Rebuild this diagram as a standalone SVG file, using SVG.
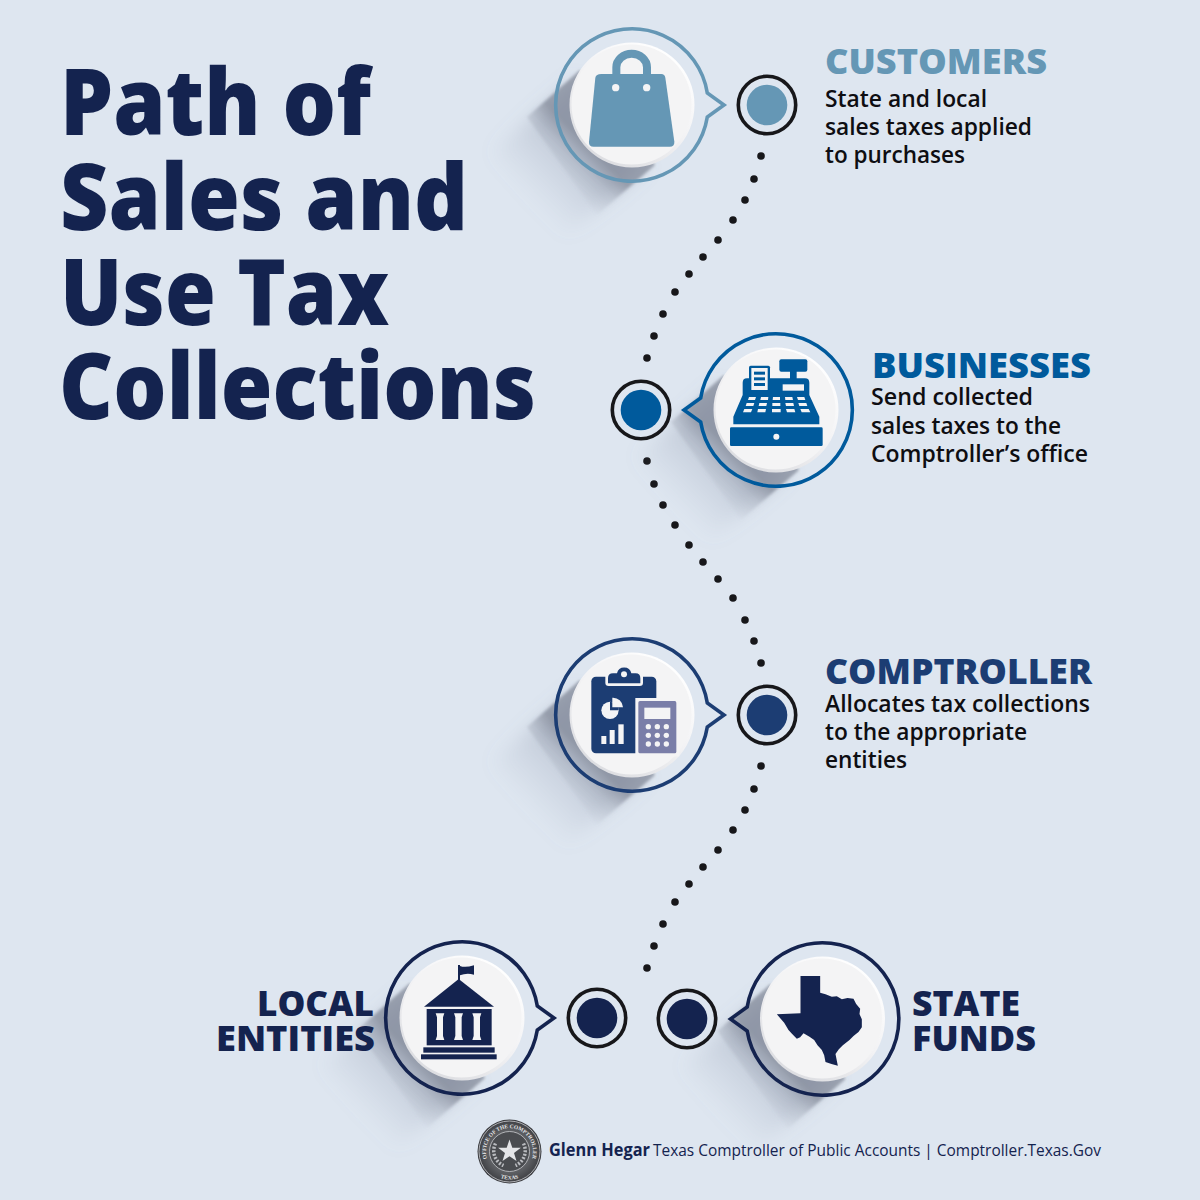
<svg xmlns="http://www.w3.org/2000/svg" width="1200" height="1200" viewBox="0 0 1200 1200">
<style>
text{font-family:"Open Sans","Liberation Sans",sans-serif}
.title{font-size:93px;font-weight:800;fill:#14234f}
.head{font-size:35px;font-weight:800}
.body{font-size:24px;font-weight:600;fill:#0e0e12}
.foot{font-size:17px;fill:#14234f}
.ring{fill:none;stroke:currentColor;stroke-width:3.6}
.outer{fill:none;stroke:#17171a;stroke-width:3.6}
.dot{fill:#17171a}
.w{fill:#f4f4f5}
</style>
<defs>
<linearGradient id="sg" gradientUnits="userSpaceOnUse" x1="0" y1="0" x2="-78" y2="78">
<stop offset=".54" stop-color="#6c7282" stop-opacity=".58"/>
<stop offset=".72" stop-color="#7a8192" stop-opacity=".24"/>
<stop offset=".97" stop-color="#8a92a4" stop-opacity="0"/>
</linearGradient>
<linearGradient id="sg2" gradientUnits="userSpaceOnUse" x1="0" y1="0" x2="-100" y2="100">
<stop offset=".5" stop-color="#7d879c" stop-opacity=".3"/>
<stop offset="1" stop-color="#8d97ae" stop-opacity="0"/>
</linearGradient>
<filter id="soft" x="-30%" y="-30%" width="160%" height="160%"><feGaussianBlur stdDeviation="9"/></filter>
<filter id="soft2" x="-10%" y="-10%" width="120%" height="120%"><feGaussianBlur stdDeviation="1.4"/></filter>
<linearGradient id="rim" x1=".85" y1=".1" x2=".25" y2=".95">
<stop offset="0" stop-color="#ffffff"/>
<stop offset=".5" stop-color="#f2f2f4"/>
<stop offset="1" stop-color="#dcdde1"/>
</linearGradient>
<radialGradient id="sealg"><stop offset="0" stop-color="#8b8d90"/><stop offset=".7" stop-color="#5a5c60"/><stop offset="1" stop-color="#3c3d41"/></radialGradient>
<g id="shadow">
<path d="M-56-26L14 62L-70 135L-140 47Z" fill="url(#sg2)" filter="url(#soft)"/>
<path d="M-52-35L23 60L-35 110L-105 12Z" fill="url(#sg)" filter="url(#soft2)"/>
</g>
<g id="disk"><circle r="62.5" fill="url(#rim)"/><circle cx="-.5" cy="-.5" r="60" fill="#f4f4f5"/></g>
<path id="bubble" class="ring" d="M75.3-12A76.3 76.3 0 1 0 75.3 12L92 0Z"/>
<path id="sealtop" d="M-20.4 11.8A23.5 23.5 0 1 1 20.4 11.8"/>
<path id="sealbot" d="M-16 23A28 28 0 0 0 16 23"/>
</defs>
<rect width="1200" height="1200" fill="#dee6f0"/>

<g id="title" class="title">
<text x="60" y="135" textLength="311" lengthAdjust="spacingAndGlyphs">Path of</text>
<text x="60" y="230" textLength="408" lengthAdjust="spacingAndGlyphs">Sales and</text>
<text x="60" y="325" textLength="329" lengthAdjust="spacingAndGlyphs">Use Tax</text>
<text x="59" y="419" textLength="477" lengthAdjust="spacingAndGlyphs">Collections</text>
</g>

<g id="connectors" class="dot">
<circle cx="761" cy="156" r="3.8"/><circle cx="754" cy="179" r="3.8"/><circle cx="745" cy="200" r="3.8"/><circle cx="733" cy="220" r="3.8"/><circle cx="718" cy="240" r="3.8"/><circle cx="703" cy="257" r="3.8"/><circle cx="689" cy="274" r="3.8"/><circle cx="675" cy="292" r="3.8"/><circle cx="663" cy="314" r="3.8"/><circle cx="654" cy="336" r="3.8"/><circle cx="647" cy="358" r="3.8"/>
<circle cx="647" cy="461" r="3.8"/><circle cx="654" cy="484" r="3.8"/><circle cx="663" cy="505" r="3.8"/><circle cx="675" cy="525" r="3.8"/><circle cx="689" cy="545" r="3.8"/><circle cx="703" cy="562" r="3.8"/><circle cx="718" cy="579" r="3.8"/><circle cx="733" cy="598" r="3.8"/><circle cx="745" cy="620" r="3.8"/><circle cx="754" cy="641" r="3.8"/><circle cx="761" cy="663" r="3.8"/>
<circle cx="761" cy="766" r="3.8"/><circle cx="754" cy="789" r="3.8"/><circle cx="745" cy="810" r="3.8"/><circle cx="733" cy="830" r="3.8"/><circle cx="718" cy="850" r="3.8"/><circle cx="703" cy="867" r="3.8"/><circle cx="689" cy="884" r="3.8"/><circle cx="675" cy="902" r="3.8"/><circle cx="663" cy="924" r="3.8"/><circle cx="654" cy="946" r="3.8"/><circle cx="647" cy="968" r="3.8"/>
</g>

<g id="node-customers" style="color:#6597b5">
<g transform="translate(632 105)">
<use href="#shadow"/><use href="#bubble"/><use href="#disk"/>
<g transform="scale(.3333) translate(-277 -285)">
<path d="M230 192V172A46 41 0 0 1 322 172V192" fill="none" stroke="#6597b5" stroke-width="24"/>
<path d="M185 192H365Q375 192 377 203L404 395Q405 410 390 410H162Q147 410 148 395L167 203Q169 192 185 192Z" fill="#6597b5"/>
<circle cx="228" cy="233" r="11" class="w"/><circle cx="321" cy="233" r="11" class="w"/>
</g>
</g>
<g transform="translate(767 105)"><circle r="20.3" fill="#6597b5"/><circle r="28.7" class="outer"/></g>
<text class="head" x="825" y="74" fill="#6597b5" textLength="222" lengthAdjust="spacingAndGlyphs">CUSTOMERS</text>
<text class="body" x="825" y="107" textLength="162" lengthAdjust="spacingAndGlyphs">State and local</text>
<text class="body" x="825" y="135" textLength="207" lengthAdjust="spacingAndGlyphs">sales taxes applied</text>
<text class="body" x="825" y="163" textLength="140" lengthAdjust="spacingAndGlyphs">to purchases</text>
</g>

<g id="node-businesses" style="color:#005a9c">
<g transform="translate(776 410)">
<use href="#shadow"/><use href="#bubble" transform="scale(-1 1)"/><use href="#disk"/>
<g transform="scale(.3333) translate(-528 -270)" fill="#005a9c">
<rect x="390" y="322" width="278" height="56" rx="4"/>
<circle cx="529" cy="350" r="9" class="w"/>
<rect x="538" y="118" width="84" height="37" rx="6"/>
<rect x="570" y="150" width="20" height="30"/>
<path d="M400 313V290L428 225V188Q428 175 441 175H615Q628 175 628 188V225L658 290V313Z"/>
<rect x="447" y="137" width="63" height="76" rx="5"/>
<rect x="454" y="144" width="49" height="66" class="w"/>
<rect x="462" y="155" width="33" height="9"/><rect x="462" y="172" width="33" height="9"/><rect x="462" y="189" width="33" height="9"/>
<g class="w">
<rect x="548" y="193" width="64" height="19"/>
<path d="M447 231H468L465 240H444ZM483 231H505L504 240H481ZM519 231H540V240H518ZM555 231H577L579 240H556ZM591 231H613L616 240H594Z"/>
<path d="M440 249H463L460 258H437ZM478 249H501L499 258H476ZM517 249H541V258H517ZM556 249H580L582 258H558ZM595 249H619L622 258H598Z"/>
<path d="M433 267H457L453 277H429ZM474 267H498L496 277H472ZM516 267H542V277H516ZM558 267H583L586 277H561ZM601 267H626L631 277H605Z"/>
</g>
</g>
</g>
<g transform="translate(641 410)"><circle r="20.3" fill="#005a9c"/><circle r="28.7" class="outer"/></g>
<text class="head" x="872" y="378" fill="#005a9c" textLength="219" lengthAdjust="spacingAndGlyphs">BUSINESSES</text>
<text class="body" x="871" y="405" textLength="162" lengthAdjust="spacingAndGlyphs">Send collected</text>
<text class="body" x="871" y="434" textLength="190" lengthAdjust="spacingAndGlyphs">sales taxes to the</text>
<text class="body" x="871" y="462" textLength="217" lengthAdjust="spacingAndGlyphs">Comptroller’s office</text>
</g>

<g id="node-comptroller" style="color:#1c3d73">
<g transform="translate(632 715)">
<use href="#shadow"/><use href="#bubble"/><use href="#disk"/>
<g transform="scale(.3333) translate(-277 -255)">
<rect x="155" y="140" width="195" height="230" rx="14" fill="#1c3d73"/>
<rect x="197" y="122" width="113" height="46" rx="10" class="w"/>
<path d="M205 145Q205 130 220 130H232A22 22 0 0 1 275 130H288Q302 130 302 145V160H205Z" fill="#1c3d73"/>
<circle cx="253" cy="133" r="9" class="w"/>
<circle cx="211" cy="241" r="26" class="w"/>
<path d="M211 241V215A26 26 0 0 1 237 241Z" fill="#1c3d73"/>
<path d="M218 232V203A30 30 0 0 1 250 232Z" class="w"/>
<g class="w"><rect x="185" y="318" width="15" height="24"/><rect x="210" y="300" width="15" height="42"/><rect x="236" y="283" width="16" height="59"/></g>
<rect x="287" y="204" width="132" height="175" class="w"/>
<rect x="296" y="213" width="114" height="157" rx="5" fill="#7a7ea8"/>
<rect x="314" y="233" width="78" height="34" class="w"/>
<g class="w"><circle cx="326" cy="290" r="8"/><circle cx="353" cy="290" r="8"/><circle cx="380" cy="290" r="8"/><circle cx="326" cy="316" r="8"/><circle cx="353" cy="316" r="8"/><circle cx="380" cy="316" r="8"/><circle cx="326" cy="342" r="8"/><circle cx="353" cy="342" r="8"/><circle cx="380" cy="342" r="8"/></g>
</g>
</g>
<g transform="translate(767 715)"><circle r="20.3" fill="#1c3d73"/><circle r="28.7" class="outer"/></g>
<text class="head" x="825" y="684" fill="#1c3d73" textLength="267" lengthAdjust="spacingAndGlyphs">COMPTROLLER</text>
<text class="body" x="825" y="712" textLength="265" lengthAdjust="spacingAndGlyphs">Allocates tax collections</text>
<text class="body" x="825" y="740" textLength="202" lengthAdjust="spacingAndGlyphs">to the appropriate</text>
<text class="body" x="825" y="768" textLength="82" lengthAdjust="spacingAndGlyphs">entities</text>
</g>

<g id="node-local" style="color:#14234f">
<g transform="translate(462 1018)">
<use href="#shadow"/><use href="#bubble"/><use href="#disk"/>
<g transform="scale(.3333) translate(-276 -264)" fill="#14234f">
<rect x="264" y="105" width="6" height="48"/>
<path d="M270 108Q285 114 312 106V134Q290 128 270 136Z"/>
<path d="M266 147L372 230H162Z"/>
<rect x="170" y="237" width="195" height="109"/>
<rect x="160" y="352" width="214" height="16"/>
<rect x="153" y="373" width="227" height="15"/>
<g class="w"><path d="M197 250H223L219 262V318L223 330H197L201 318V262Z"/><path d="M252 250H279L275 262V318L279 330H252L256 318V262Z"/><path d="M307 250H334L330 262V318L334 330H307L311 318V262Z"/></g>
</g>
</g>
<g transform="translate(597 1018)"><circle r="20.3" fill="#14234f"/><circle r="28.7" class="outer"/></g>
<text class="head" x="374" y="1016" text-anchor="end" fill="#14234f" textLength="117" lengthAdjust="spacingAndGlyphs">LOCAL</text>
<text class="head" x="216" y="1051" fill="#14234f" textLength="159" lengthAdjust="spacingAndGlyphs">ENTITIES</text>
</g>

<g id="node-state" style="color:#14234f">
<g transform="translate(822.5 1019)">
<use href="#shadow"/><use href="#bubble" transform="scale(-1 1)"/><use href="#disk"/>
<g transform="scale(.3333) translate(-547 -267)">
<path fill="#14234f" d="M481 138H540V188L556 193L575 200L590 199L605 208L622 204L640 206L648 222L660 236L658 252L665 268L665 292L655 306L640 318L628 330L608 346L596 358L586 372L590 392L593 407L574 402L556 396L552 376L545 360L532 346L522 330L508 320L490 310L480 322L470 326L456 312L445 300L432 278L410 253L481 250Z"/>
</g>
</g>
<g transform="translate(687 1019)"><circle r="20.3" fill="#14234f"/><circle r="28.7" class="outer"/></g>
<text class="head" x="912" y="1016" fill="#14234f" textLength="108" lengthAdjust="spacingAndGlyphs">STATE</text>
<text class="head" x="912" y="1051" fill="#14234f" textLength="124" lengthAdjust="spacingAndGlyphs">FUNDS</text>
</g>

<g id="footer">
<g transform="translate(509.5 1151.5)">
<circle r="32" fill="url(#sealg)"/>
<circle r="30.5" fill="none" stroke="#c9cace" stroke-width=".8"/>
<circle r="20" fill="#4a4c50" stroke="#c9cace" stroke-width=".8"/>
<text font-size="5.5" font-weight="700" fill="#e6e6e8" style="font-family:'Liberation Serif',serif"><textPath href="#sealtop" startOffset="50%" text-anchor="middle">OFFICE OF THE COMPTROLLER</textPath></text>
<text font-size="5.5" font-weight="700" fill="#e6e6e8" style="font-family:'Liberation Serif',serif"><textPath href="#sealbot" startOffset="50%" text-anchor="middle">TEXAS</textPath></text>
<path d="M-14-8A16 16 0 0 0-6 14M14-8A16 16 0 0 1 6 14" fill="none" stroke="#b9bbbf" stroke-width="3.5" stroke-dasharray="2 1.5"/>
<path d="M0-12L2.8-3.8H11.4L4.5 1.4L7 9.6L0 4.7L-7 9.6L-4.5 1.4L-11.4-3.8H-2.8Z" fill="#e4e5e8"/>
</g>
<text class="foot" x="549" y="1156" font-weight="700" textLength="101" lengthAdjust="spacingAndGlyphs">Glenn Hegar</text>
<text class="foot" x="653" y="1156" textLength="448" lengthAdjust="spacingAndGlyphs">Texas Comptroller of Public Accounts | Comptroller.Texas.Gov</text>
</g>
</svg>
